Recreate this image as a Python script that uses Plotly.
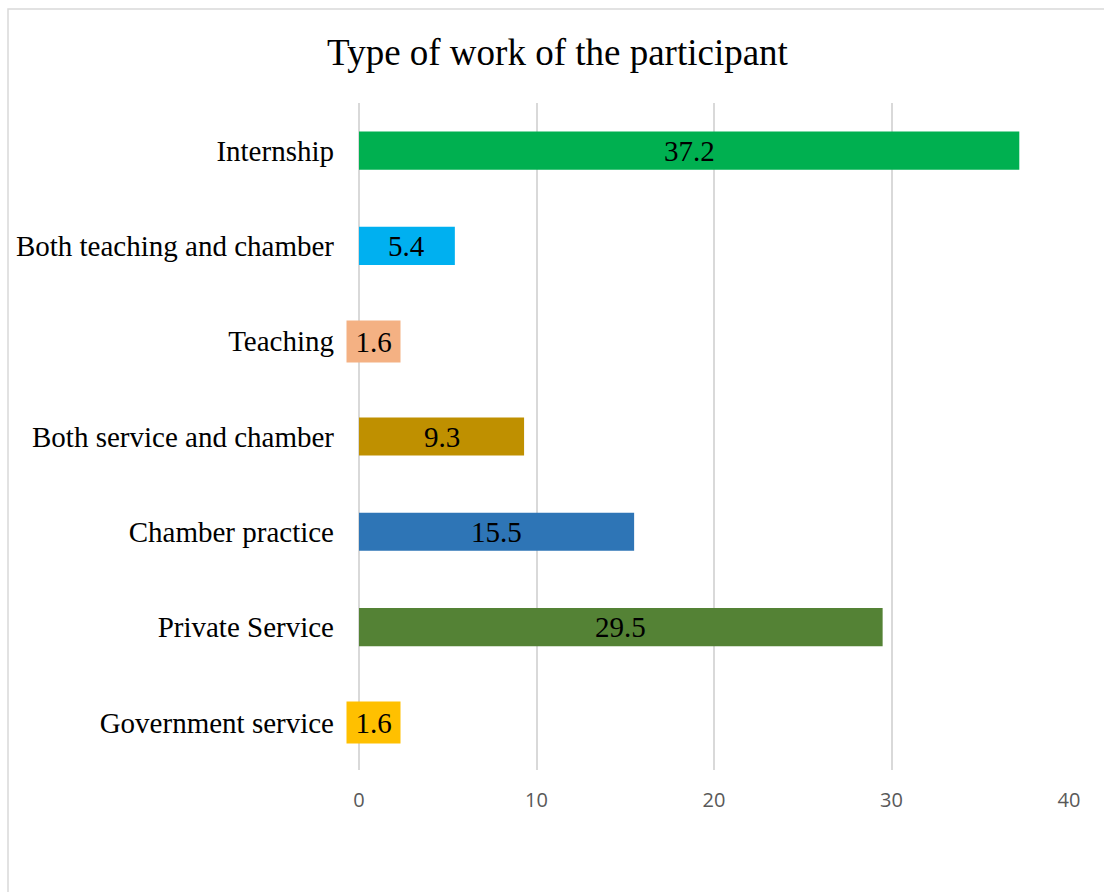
import plotly.graph_objects as go

# Data
categories = [
    "Internship",
    "Both teaching and chamber",
    "Teaching",
    "Both service and chamber",
    "Chamber practice",
    "Private Service",
    "Government service",
]
values = [37.2, 5.4, 1.6, 9.3, 15.5, 29.5, 1.6]
colors = ["#00B050", "#00B0F0", "#F4B183", "#BF9000", "#2E75B6", "#548235", "#FFC000"]
x_ticks = [0, 10, 20, 30, 40]

SERIF = "Liberation Serif, Times New Roman, serif"
SANS = "Open Sans, Liberation Sans, sans-serif"

fig = go.Figure(
    go.Bar(
        x=values,
        y=categories,
        orientation="h",
        marker=dict(color=colors, line=dict(width=0)),
        width=0.4,
        hoverinfo="x+y",
    )
)

# Value labels centred on each bar; short bars get a filled label box
annotations = []
for cat, val, col in zip(categories, values, colors):
    small = val < 3
    annotations.append(
        dict(
            x=val / 2,
            y=cat,
            xref="x",
            yref="y",
            text=f"{val}",
            showarrow=False,
            font=dict(family=SERIF, size=29, color="#000000"),
            bgcolor=col if small else "rgba(0,0,0,0)",
            width=53 if small else None,
            height=41 if small else None,
            borderpad=0,
        )
    )

fig.update_layout(
    width=1104,
    height=892,
    paper_bgcolor="white",
    plot_bgcolor="white",
    margin=dict(l=359, r=35, t=103, b=122, autoexpand=False),
    showlegend=False,
    title=dict(
        text="Type of work of the participant",
        font=dict(family=SERIF, size=37, color="#000000"),
        x=0.505,
        xanchor="center",
        xref="container",
        y=1 - 52 / 892,
        yanchor="middle",
        yref="container",
    ),
    xaxis=dict(
        range=[0, 40],
        tickvals=x_ticks,
        showgrid=True,
        gridcolor="#D9D9D9",
        gridwidth=1.5,
        zeroline=True,
        zerolinecolor="#D9D9D9",
        zerolinewidth=1.5,
        showline=False,
        ticks="",
        ticklabelstandoff=16,
        tickfont=dict(family=SANS, size=20, color="#595959"),
        fixedrange=True,
    ),
    yaxis=dict(
        autorange="reversed",
        showgrid=False,
        zeroline=False,
        showline=False,
        ticks="",
        ticklabelstandoff=24,
        tickfont=dict(family=SERIF, size=29, color="#000000"),
        fixedrange=True,
    ),
    bargap=0.6,
    annotations=annotations,
    shapes=[
        dict(
            type="rect",
            xref="paper",
            yref="paper",
            x0=(8 - 359) / 710,
            x1=(1110 - 359) / 710,
            y0=-0.2,
            y1=1 + (103 - 9) / 667,
            line=dict(color="#D9D9D9", width=1.5),
            fillcolor="rgba(0,0,0,0)",
            layer="below",
        )
    ],
)

fig.write_html("out.html")
